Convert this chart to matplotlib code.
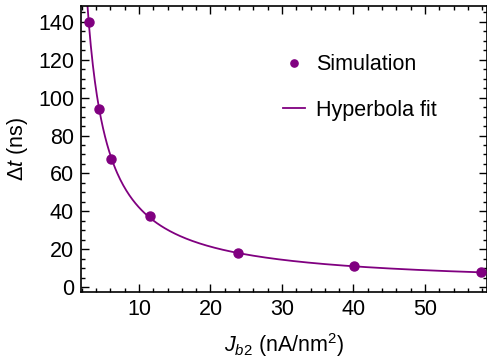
import numpy as np
import matplotlib
matplotlib.use("Agg")
import matplotlib.pyplot as plt
from matplotlib.ticker import MultipleLocator

plt.rcParams["font.family"] = ["Liberation Sans", "DejaVu Sans"]
plt.rcParams["mathtext.fontset"] = "custom"
plt.rcParams["mathtext.rm"] = "Liberation Sans"
plt.rcParams["mathtext.it"] = "Liberation Sans:italic"

# simulation points
jb2 = [3.0, 4.4, 6.1, 11.5, 23.9, 40.1, 57.8]
dt = [140.0, 93.8, 67.4, 37.6, 17.8, 11.1, 8.1]

COLOR = "#800080"
FS = 15.5

# hyperbola fit  dt = a / J + b
x = np.array(jb2)
y = np.array(dt)
A = np.vstack([1.0 / x, np.ones_like(x)]).T
a, b = np.linalg.lstsq(A, y, rcond=None)[0]
xf = np.linspace(2.0, 58.6, 400)
yf = a / xf + b

fig = plt.figure(figsize=(4.87, 3.62), dpi=100)
ax = fig.add_axes([81 / 487, 1 - 292 / 362, (486.5 - 81) / 487, (292 - 6) / 362])

ax.plot(jb2, dt, "o", color=COLOR, ms=6.5, label="Simulation", zorder=3)
ax.plot(xf, yf, "-", color=COLOR, lw=1.3, label="Hyperbola fit")

ax.set_xlim(1.9, 58.6)
ax.set_ylim(-2.6, 148.4)
ax.xaxis.set_major_locator(MultipleLocator(10))
ax.xaxis.set_minor_locator(MultipleLocator(2))
ax.yaxis.set_major_locator(MultipleLocator(20))
ax.yaxis.set_minor_locator(MultipleLocator(5))
ax.tick_params(which="both", direction="in", top=True, right=True, labelsize=FS, width=1.0)
ax.tick_params(which="major", length=6, pad=5)
ax.tick_params(which="minor", length=3)
for s in ax.spines.values():
    s.set_linewidth(1.2)

ax.set_xlabel(r"$J_{b2}$ (nA/nm$^2$)", fontsize=FS, labelpad=8)
ax.set_ylabel(r"$\Delta t$ (ns)", fontsize=FS, labelpad=6)

leg = ax.legend(loc="upper left", bbox_to_anchor=(0.476, 0.862), borderaxespad=0,
                frameon=False, fontsize=FS, handlelength=1.05, labelspacing=1.15,
                handletextpad=0.5, markerscale=0.8)

fig.savefig("out.png", dpi=100)
plt.close(fig)
